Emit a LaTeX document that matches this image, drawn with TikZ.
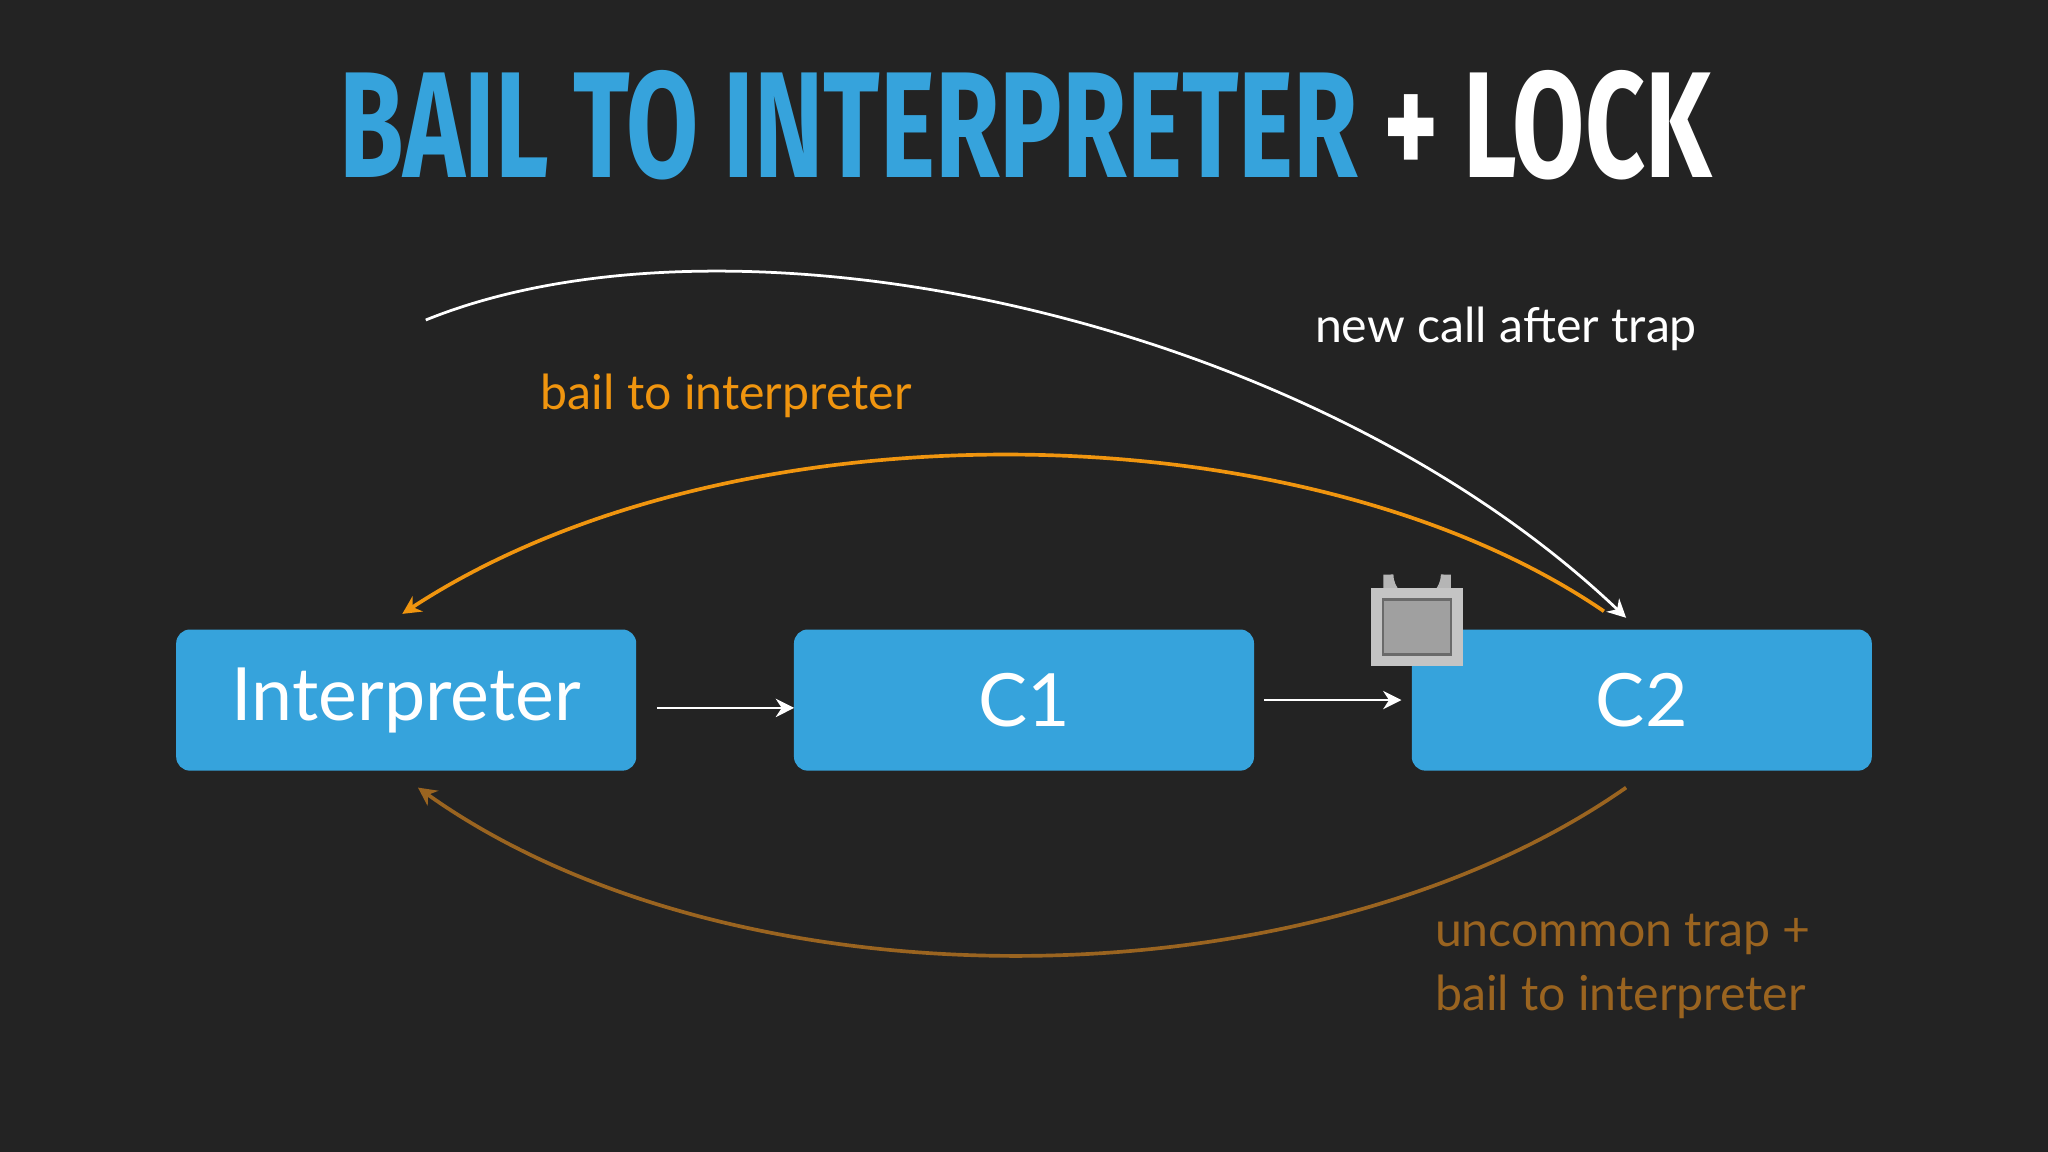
\documentclass[tikz,border=0pt]{standalone}
\usepackage{fontspec}
\usetikzlibrary{arrows.meta}
\setmainfont{Lato}
\newfontfamily\titlefont{Fira Sans}
\definecolor{bg}{HTML}{232323}
\definecolor{boxblue}{HTML}{36A3DC}
\definecolor{orangeA}{HTML}{F0950F}
\definecolor{brownA}{HTML}{9A6420}
\definecolor{lockgray}{HTML}{B5B5B5}
\begin{document}
\begin{tikzpicture}[x=0.01cm,y=-0.01cm,
  blk/.style={fill=boxblue,rounded corners=3pt,minimum width=3.52cm,minimum height=1.08cm,text=white,font=\fontsize{16}{18}\selectfont,inner sep=0},
  lbl/.style={font=\fontsize{10.5}{13}\selectfont,inner sep=0},
  conn/.style={-{Stealth[length=4pt,width=4pt]},line width=0.5pt}]
\fill[bg] (0,0) rectangle (1568,882);
\useasboundingbox (0,0) rectangle (1568,882);
\node at (785,96) {\resizebox{10.5cm}{0.82cm}{\titlefont\bfseries\color{boxblue}BAIL TO INTERPRETER \color{white}+ LOCK}};
\node[blk] (int) at (311,536) {Interpreter};
\node[blk] (c1) at (784,536) {C1};
\node[blk] (c2) at (1257,536) {C2};
\coordinate (a1) at (503,542); \coordinate (a2) at (608,542);
\coordinate (b1) at (968,536); \coordinate (b2) at (1073,536);
\draw[conn,white] (a1) -- (a2);
\draw[conn,white] (b1) -- (b2);
% lock
\draw[lockgray,line width=2.2pt] (1063,455) -- (1063,440) arc[start angle=180,end angle=0,radius=22] -- (1107,455);
\fill[lockgray!80] (1050,450) rectangle (1120,510);
\fill[gray!140!lockgray] (1058,458) rectangle (1112,502);
\fill[lockgray!60!gray] (1060,460) rectangle (1110,500);
% curves
\coordinate (w1) at (326,245); \coordinate (w2) at (1245,473);
\draw[conn,white,line width=0.6pt] (w1) .. controls (560,150) and (1000,240) .. (w2);
\coordinate (o1) at (1228,468); \coordinate (o2) at (308,470);
\draw[conn,orangeA,line width=0.8pt] (o1) .. controls (1000,312) and (560,305) .. (o2);
\coordinate (r1) at (1245,603); \coordinate (r2) at (320,603);
\draw[conn,brownA,line width=0.8pt] (r1) .. controls (1000,774) and (560,774) .. (r2);
\node[lbl,white] (t1) at (1153,252) {new call after trap};
\node[lbl,orangeA] (t2) at (556,303) {bail to interpreter};
\node[lbl,brownA,align=left,anchor=west,font=\fontsize{10.5}{14}\selectfont] (t3) at (1098,740) {uncommon trap +\\bail to interpreter};
\end{tikzpicture}
\end{document}
